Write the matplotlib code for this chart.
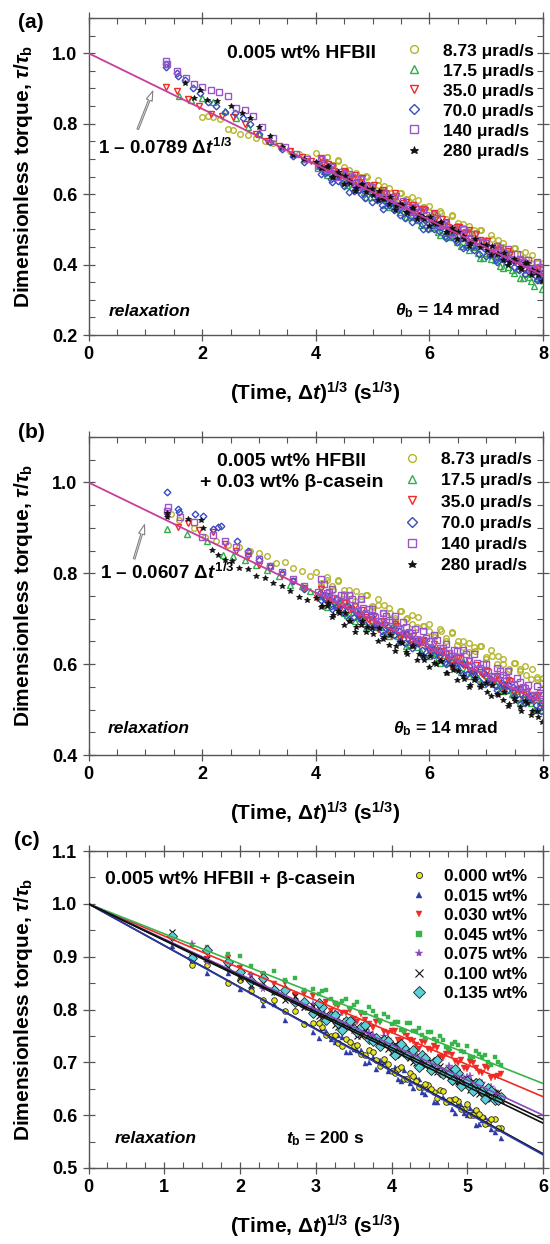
import numpy as np
import matplotlib
matplotlib.use("Agg")
import matplotlib.pyplot as plt
from matplotlib.ticker import MultipleLocator, FormatStrFormatter

plt.rcParams.update({
    "font.family": ["Liberation Sans", "DejaVu Sans"],
    "font.weight": "bold",
    "axes.labelweight": "bold",
    "mathtext.fontset": "custom",
    "mathtext.rm": "Liberation Sans:bold",
    "mathtext.it": "Liberation Sans:italic:bold",
    "mathtext.bf": "Liberation Sans:bold",
})

nan = np.nan

# ---------------- Panel (a): 0.005 wt% HFBII ----------------
A_LABELS = ["8.73 \u03bcrad/s", "17.5 \u03bcrad/s", "35.0 \u03bcrad/s",
            "70.0 \u03bcrad/s", "140 \u03bcrad/s", "280 \u03bcrad/s"]
A_FIT_X = [0.0, 8.0]
A_FIT_Y = [1.0, 0.3688]          # 1 - 0.0789 dt^(1/3)

A_X_873 = [2.00, 2.10, 2.20, 2.32, 2.45, 2.55, 2.67, 2.80, 2.95, 3.10, 3.25, 3.40, 3.55, 3.70, 3.85,
           4.0, 4.1, 4.2, 4.3, 4.4, 4.5, 4.6, 4.7, 4.8, 4.9, 5.0, 5.1, 5.2, 5.3, 5.4, 5.5, 5.6, 5.7,
           5.8, 5.9, 6.0, 6.1, 6.2, 6.3, 6.4, 6.5, 6.6, 6.7, 6.8, 6.9, 7.0, 7.1, 7.2, 7.3, 7.4, 7.5,
           7.6, 7.7, 7.8, 7.9, 8.0]
A_Y_873 = [.818, .822, .820, .812, .784, .782, .770, .768, .760, .752, .744, .733, .722, .714, .706,
           .718, .700, .704, .684, .697, .677, .654, .660, .642, .648, .621, .625, .623, .603, .590,
           .602, .587, .571, .584, .562, .567, .541, .545, .521, .537, .517, .503, .509, .491, .497,
           .468, .472, .469, .449, .435, .447, .431, .416, .428, .405, .404]

A_X_175 = [1.60, 1.80, 2.00, 2.20, 2.40, 2.60, 2.80, 3.00, 3.20, 3.40, 3.60, 3.80,
           4.05, 4.15, 4.25, 4.35, 4.45, 4.55, 4.65, 4.75, 4.85, 4.95, 5.05, 5.15, 5.25, 5.35,
           5.45, 5.55, 5.65, 5.75, 5.85, 5.95, 6.05, 6.15, 6.25, 6.35, 6.45, 6.55, 6.65, 6.75,
           6.85, 6.95, 7.05, 7.15, 7.25, 7.35, 7.45, 7.55, 7.65, 7.75, 7.85, 7.95]
A_Y_175 = [.879, .868, .872, .862, .835, .815, .790, .770, .752, .735, .715, .700,
           .680, .666, .671, .651, .657, .627, .630, .626, .606, .591, .603, .586, .570, .581,
           .557, .560, .534, .537, .512, .528, .508, .493, .498, .478, .484, .454, .457, .453,
           .434, .419, .430, .413, .397, .408, .384, .387, .361, .365, .340, .355]

A_X_350 = [1.36, 1.55, 1.75, 1.95, 2.15, 2.35, 2.55, 2.75, 2.95, 3.15, 3.35, 3.55, 3.75, 3.92,
           4.02, 4.12, 4.22, 4.32, 4.42, 4.52, 4.62, 4.72, 4.82, 4.92, 5.02, 5.12, 5.22, 5.32,
           5.42, 5.52, 5.62, 5.72, 5.82, 5.92, 6.02, 6.12, 6.22, 6.32, 6.42, 6.52, 6.62, 6.72,
           6.82, 6.92, 7.02, 7.12, 7.22, 7.32, 7.42, 7.52, 7.62, 7.72, 7.82, 7.92]
A_Y_350 = [.905, .892, .870, .850, .828, .822, .818, .800, .772, .750, .738, .722, .706, .695,
           .685, .689, .686, .666, .652, .664, .648, .633, .645, .622, .626, .600, .604, .580,
           .596, .576, .563, .569, .550, .556, .527, .531, .528, .508, .494, .507, .491, .475,
           .487, .464, .468, .440, .442, .416, .431, .409, .393, .399, .380, .386]

A_X_700 = [1.36, 1.36, 1.55, 1.57, 1.70, 1.84, 1.97, 2.10, 2.25, 2.40, 2.58, 2.72, 2.84, 3.00,
           3.20, 3.40, 3.60, 3.80,
           4.07, 4.17, 4.27, 4.37, 4.47, 4.57, 4.67, 4.77, 4.87, 4.97, 5.07, 5.17, 5.27, 5.37,
           5.47, 5.57, 5.67, 5.77, 5.87, 5.97, 6.07, 6.17, 6.27, 6.37, 6.47, 6.57, 6.67, 6.77,
           6.87, 6.97, 7.07, 7.17, 7.27, 7.37, 7.47, 7.57, 7.67, 7.77, 7.87, 7.97]
A_Y_700 = [.969, .960, .943, .935, .924, .900, .888, .862, .850, .834, .830, .815, .800, .770,
           .748, .728, .708, .690,
           .676, .660, .643, .655, .631, .635, .609, .613, .588, .604, .583, .569, .574, .555,
           .561, .533, .537, .534, .514, .500, .512, .496, .480, .492, .471, .475, .450, .454,
           .431, .447, .428, .415, .422, .405, .412, .384, .389, .387, .368, .355]

A_X_140 = [1.36, 1.38, 1.56, 1.72, 1.86, 2.00, 2.15, 2.30, 2.45, 2.60, 2.75, 2.90, 3.05, 3.25,
           3.45, 3.65, 3.85,
           4.04, 4.14, 4.24, 4.34, 4.44, 4.54, 4.64, 4.74, 4.84, 4.94, 5.04, 5.14, 5.24, 5.34,
           5.44, 5.54, 5.64, 5.74, 5.84, 5.94, 6.04, 6.14, 6.24, 6.34, 6.44, 6.54, 6.64, 6.74,
           6.84, 6.94, 7.04, 7.14, 7.24, 7.34, 7.44, 7.54, 7.64, 7.74, 7.84, 7.94]
A_Y_140 = [.978, .970, .950, .930, .913, .905, .895, .890, .878, .845, .840, .822, .790, .760,
           .735, .715, .700,
           .674, .690, .670, .657, .663, .644, .650, .621, .625, .622, .602, .588, .601, .585,
           .569, .581, .558, .562, .536, .540, .516, .533, .513, .499, .505, .486, .492, .463,
           .467, .464, .446, .433, .446, .431, .416, .429, .407, .412, .387, .393]

A_X_280 = [1.70, 1.85, 1.96, 2.08, 2.26, 2.50, 2.70, 2.85, 3.00, 3.20, 3.40, 3.60, 3.80,
           4.01, 4.11, 4.21, 4.31, 4.41, 4.51, 4.61, 4.71, 4.81, 4.91, 5.01, 5.11, 5.21, 5.31,
           5.41, 5.51, 5.61, 5.71, 5.81, 5.91, 6.01, 6.11, 6.21, 6.31, 6.41, 6.51, 6.61, 6.71,
           6.81, 6.91, 7.01, 7.11, 7.21, 7.31, 7.41, 7.51, 7.61, 7.71, 7.81, 7.91]
A_Y_280 = [.916, .873, .896, .868, .865, .850, .830, .815, .790, .765, .735, .712, .700,
           .692, .673, .679, .650, .654, .651, .631, .617, .629, .614, .598, .610, .587, .591,
           .565, .569, .545, .561, .542, .528, .534, .515, .521, .492, .496, .493, .473, .460,
           .472, .456, .440, .452, .429, .433, .407, .411, .388, .404, .384, .370]

# second sweep of readings in the dense long-time part (shared time values)
X2 = [4.09, 4.19, 4.29, 4.39, 4.49, 4.59, 4.69, 4.79, 4.89, 4.99, 5.09, 5.19, 5.29, 5.39,
      5.49, 5.59, 5.69, 5.79, 5.89, 5.99, 6.09, 6.19, 6.29, 6.39, 6.49, 6.59, 6.69, 6.79,
      6.89, 6.99, 7.09, 7.19, 7.29, 7.39, 7.49, 7.59, 7.69, 7.79, 7.89, 7.99]
A2_873 = [.688, .705, .683, .694, .662, .669, .642, .650, .651, .624, .640, .607, .616, .588,
          .603, .585, .592, .561, .564, .549, .536, .553, .530, .541, .509, .516, .489, .497,
          .498, .471, .485, .452, .460, .432, .447, .429, .436, .405, .408, .394]
A2_175 = [.683, .655, .663, .664, .636, .648, .614, .622, .593, .607, .588, .595, .564, .566,
          .550, .534, .550, .526, .536, .504, .511, .483, .490, .491, .463, .475, .441, .449,
          .420, .434, .416, .423, .391, .393, .377, .361, .377, .353, .363, .332]
A2_350 = [.703, .670, .679, .651, .666, .648, .655, .624, .627, .612, .596, .613, .591, .602,
          .570, .577, .550, .558, .559, .532, .546, .513, .521, .493, .508, .490, .497, .466,
          .469, .454, .437, .453, .429, .439, .406, .412, .384, .391, .391, .364]
A2_700 = [.657, .664, .634, .637, .622, .606, .623, .600, .611, .579, .586, .559, .568, .569,
          .542, .555, .522, .530, .502, .517, .500, .507, .476, .479, .464, .448, .465, .442,
          .455, .424, .433, .407, .416, .418, .392, .406, .374, .383, .356, .373]
A2_140 = [.700, .668, .676, .649, .657, .658, .631, .644, .611, .619, .591, .606, .589, .596,
          .565, .568, .553, .537, .554, .531, .543, .511, .518, .491, .499, .500, .473, .486,
          .453, .461, .436, .452, .435, .443, .413, .417, .403, .388, .406, .384]
A2_280 = [.675, .676, .650, .663, .630, .638, .610, .625, .607, .614, .583, .586, .572, .556,
          .573, .550, .561, .529, .536, .509, .518, .519, .492, .505, .472, .480, .452, .467,
          .449, .456, .426, .429, .414, .398, .415, .392, .403, .371, .378, .352]

# ---------------- Panel (b): HFBII + 0.03 wt% beta-casein ----------------
B_FIT_X = [0.0, 8.0]
B_FIT_Y = [1.0, 0.5144]          # 1 - 0.0607 dt^(1/3)

B_X_873 = [1.46, 1.60, 1.85, 2.05, 2.25, 2.45, 2.65, 2.85, 3.00, 3.15, 3.30, 3.45, 3.60, 3.75, 3.90,
           4.0, 4.1, 4.2, 4.3, 4.4, 4.5, 4.6, 4.7, 4.8, 4.9, 5.0, 5.1, 5.2, 5.3, 5.4, 5.5, 5.6, 5.7,
           5.8, 5.9, 6.0, 6.1, 6.2, 6.3, 6.4, 6.5, 6.6, 6.7, 6.8, 6.9, 7.0, 7.1, 7.2, 7.3, 7.4, 7.5,
           7.6, 7.7, 7.8, 7.9, 8.0]
B_Y_873 = [.930, .918, .900, .880, .872, .862, .858, .850, .845, .838, .822, .825, .812, .806, .795,
           .802, .778, .785, .763, .782, .764, .752, .761, .744, .753, .726, .731, .731, .713, .702,
           .716, .702, .689, .703, .683, .689, .665, .672, .650, .669, .650, .638, .647, .630, .639,
           .612, .618, .618, .600, .589, .603, .589, .576, .590, .568, .569]

B_X_175 = [1.38, 1.73, 2.08, 2.37, 2.55, 2.75, 2.95, 3.15, 3.35, 3.55, 3.75, 3.90,
           4.05, 4.15, 4.25, 4.35, 4.45, 4.55, 4.65, 4.75, 4.85, 4.95, 5.05, 5.15, 5.25, 5.35,
           5.45, 5.55, 5.65, 5.75, 5.85, 5.95, 6.05, 6.15, 6.25, 6.35, 6.45, 6.55, 6.65, 6.75,
           6.85, 6.95, 7.05, 7.15, 7.25, 7.35, 7.45, 7.55, 7.65, 7.75, 7.85, 7.95]
B_Y_175 = [.898, .887, .872, .840, .838, .830, .818, .808, .795, .775, .772, .760,
           .749, .737, .745, .728, .736, .709, .715, .714, .696, .684, .696, .682, .668, .682,
           .661, .666, .642, .648, .626, .643, .625, .613, .621, .603, .610, .583, .589, .587,
           .569, .557, .571, .556, .542, .556, .535, .540, .516, .522, .500, .516]

B_X_350 = [1.38, 1.58, 1.75, 1.95, 2.20, 2.40, 2.60, 2.80, 3.00, 3.20, 3.40, 3.60, 3.80,
           4.02, 4.12, 4.22, 4.32, 4.42, 4.52, 4.62, 4.72, 4.82, 4.92, 5.02, 5.12, 5.22, 5.32,
           5.42, 5.52, 5.62, 5.72, 5.82, 5.92, 6.02, 6.12, 6.22, 6.32, 6.42, 6.52, 6.62, 6.72,
           6.82, 6.92, 7.02, 7.12, 7.22, 7.32, 7.42, 7.52, 7.62, 7.72, 7.82, 7.92]
B_Y_350 = [.928, .902, .910, .895, .890, .865, .850, .838, .818, .812, .796, .783, .768,
           .746, .752, .751, .733, .721, .735, .721, .706, .720, .699, .705, .681, .687, .665,
           .683, .665, .653, .661, .644, .652, .625, .631, .629, .611, .599, .613, .599, .585,
           .599, .578, .584, .560, .566, .544, .562, .544, .531, .539, .522, .530]

B_X_700 = [1.38, 1.58, 1.60, 1.87, 2.02, 2.20, 2.28, 2.33, 2.61, 2.80, 3.00, 3.20, 3.40, 3.60, 3.80,
           4.07, 4.17, 4.27, 4.37, 4.47, 4.57, 4.67, 4.77, 4.87, 4.97, 5.07, 5.17, 5.27, 5.37,
           5.47, 5.57, 5.67, 5.77, 5.87, 5.97, 6.07, 6.17, 6.27, 6.37, 6.47, 6.57, 6.67, 6.77,
           6.87, 6.97, 7.07, 7.17, 7.27, 7.37, 7.47, 7.57, 7.67, 7.77, 7.87, 7.97]
B_Y_700 = [.978, .941, .936, .930, .927, .898, .902, .904, .870, .848, .830, .815, .800, .782, .765,
           .757, .743, .729, .743, .722, .728, .704, .709, .687, .705, .686, .674, .682, .665,
           .673, .646, .651, .650, .632, .620, .634, .618, .604, .618, .597, .603, .579, .585,
           .563, .581, .563, .551, .559, .542, .550, .523, .528, .527, .509, .497]

B_X_140 = [1.38, 1.40, 1.61, 1.85, 2.00, 2.20, 2.40, 2.60, 2.80, 3.00, 3.20, 3.40, 3.60, 3.80,
           4.04, 4.14, 4.24, 4.34, 4.44, 4.54, 4.64, 4.74, 4.84, 4.94, 5.04, 5.14, 5.24, 5.34,
           5.44, 5.54, 5.64, 5.74, 5.84, 5.94, 6.04, 6.14, 6.24, 6.34, 6.44, 6.54, 6.64, 6.74,
           6.84, 6.94, 7.04, 7.14, 7.24, 7.34, 7.44, 7.54, 7.64, 7.74, 7.84, 7.94]
B_Y_140 = [.938, .945, .924, .913, .880, .885, .872, .858, .845, .832, .815, .802, .788, .772,
           .758, .776, .758, .746, .753, .736, .744, .717, .723, .722, .704, .692, .706, .692,
           .678, .692, .671, .677, .653, .658, .636, .654, .636, .624, .632, .615, .623, .596,
           .602, .601, .583, .571, .585, .570, .556, .570, .549, .555, .531, .537]

B_X_280 = [1.38, 1.38, 1.75, 1.98, 2.02, 2.18, 2.28, 2.40, 2.52, 2.65, 2.80, 2.95, 3.10, 3.25,
           3.40, 3.55, 3.70, 3.85,
           4.01, 4.11, 4.21, 4.31, 4.41, 4.51, 4.61, 4.71, 4.81, 4.91, 5.01, 5.11, 5.21, 5.31,
           5.41, 5.51, 5.61, 5.71, 5.81, 5.91, 6.01, 6.11, 6.21, 6.31, 6.41, 6.51, 6.61, 6.71,
           6.81, 6.91, 7.01, 7.11, 7.21, 7.31, 7.41, 7.51, 7.61, 7.71, 7.81, 7.91]
B_Y_280 = [.924, .933, .920, .918, .900, .852, .840, .830, .828, .812, .810, .795, .790, .778,
           .772, .760, .748, .742,
           .745, .728, .735, .708, .713, .712, .694, .681, .695, .681, .666, .680, .659, .665,
           .640, .646, .623, .641, .622, .610, .618, .601, .608, .581, .587, .586, .567, .555,
           .569, .555, .539, .553, .532, .538, .513, .519, .497, .515, .496, .484]

B2_873 = [.773, .792, .772, .785, .755, .764, .739, .750, .753, .729, .744, .713, .724, .698,
          .716, .700, .709, .681, .685, .673, .659, .678, .658, .671, .642, .651, .626, .637,
          .640, .616, .631, .600, .611, .584, .602, .586, .595, .567, .572, .559]
B2_175 = [.750, .725, .735, .738, .712, .727, .696, .706, .680, .697, .681, .690, .661, .666,
          .653, .639, .658, .637, .649, .619, .628, .603, .613, .616, .591, .606, .575, .585,
          .559, .576, .560, .569, .540, .544, .531, .517, .536, .515, .528, .498]
B2_350 = [.766, .735, .745, .719, .735, .719, .728, .699, .704, .691, .677, .696, .675, .688,
          .658, .667, .642, .652, .654, .629, .644, .613, .623, .597, .614, .598, .607, .578,
          .583, .570, .556, .575, .554, .566, .536, .545, .520, .530, .533, .508]
B2_700 = [.742, .751, .722, .727, .713, .699, .718, .697, .710, .680, .689, .664, .674, .677,
          .652, .667, .636, .646, .619, .636, .620, .629, .600, .605, .592, .578, .597, .576,
          .589, .559, .568, .543, .553, .555, .530, .545, .514, .524, .498, .515]
B2_140 = [.787, .757, .766, .741, .750, .753, .728, .743, .712, .722, .696, .713, .697, .706,
          .677, .682, .669, .655, .673, .652, .665, .635, .644, .619, .629, .632, .607, .622,
          .591, .601, .575, .592, .576, .584, .555, .560, .547, .533, .552, .531]
B2_280 = [.725, .728, .703, .718, .686, .696, .670, .687, .671, .680, .651, .656, .643, .629,
          .648, .627, .640, .610, .618, .593, .603, .606, .581, .596, .565, .575, .549, .566,
          .550, .559, .530, .535, .522, .507, .526, .505, .518, .488, .497, .472]

# ---------------- Panel (c): HFBII + beta-casein, varying concentration ----------------
C_LABELS = ["0.000 wt%", "0.015 wt%", "0.030 wt%", "0.045 wt%", "0.075 wt%", "0.100 wt%", "0.135 wt%"]
C_X = [1.10, 1.36, 1.57, 1.84, 2.00, 2.15, 2.30, 2.45, 2.60, 2.72, 2.84, 2.96, 3.08, 3.20, 3.30,
       3.40, 3.50, 3.60, 3.70, 3.80, 3.90, 4.00, 4.08, 4.16, 4.24, 4.32, 4.40, 4.48, 4.56, 4.64,
       4.72, 4.80, 4.88, 4.96, 5.04, 5.12, 5.20, 5.28, 5.36, 5.44]
C_Y_000 = [nan, .885, .884, .851, .856, .835, .818, .818, .798, .798, .773, .774, .767, .749, .737,
           .744, .730, .716, .724, .704, .706, .684, .687, .668, .680, .665, .654, .658, .644, .648,
           .625, .629, .626, .611, .600, .609, .597, .585, .593, .575]
C_Y_015 = [.921, .894, .870, .869, .839, .842, .809, .811, .780, .799, .775, .758, .765, .744, .751,
           .719, .726, .723, .701, .687, .701, .685, .669, .686, .661, .670, .643, .650, .625, .647,
           .626, .612, .623, .604, .613, .582, .591, .590, .569, .557]
C_Y_030 = [nan, nan, .896, .897, .878, .864, .866, .849, .850, .827, .829, .825, .809, .797, .806,
           .794, .782, .791, .773, .777, .757, .760, .743, .756, .742, .732, .738, .726, .731, .710,
           .715, .713, .699, .690, .701, .690, .679, .689, .672, .677]
C_Y_045 = [nan, .922, .919, .905, .901, .883, .870, .872, .856, .859, .836, .839, .835, .820, .810,
           .819, .808, .796, .805, .788, .792, .772, .777, .760, .774, .760, .751, .757, .744, .750,
           .729, .735, .733, .720, .711, .722, .711, .701, .711, .695]
C_Y_075 = [nan, .924, .890, .883, .865, .865, .839, .839, .832, .815, .803, .810, .796, .782, .790,
           .771, .775, .754, .756, .738, .749, .733, .723, .729, .715, .720, .699, .703, .701, .687,
           .677, .687, .676, .664, .674, .656, .661, .642, .645, .628]
C_Y_100 = [.946, .900, .895, .880, .860, .846, .851, .834, .818, .825, .805, .807, .785, .785, .767,
           .778, .762, .750, .754, .740, .743, .720, .725, .722, .708, .698, .708, .696, .685, .694,
           .677, .682, .662, .666, .648, .661, .646, .636, .642, .628]
C_Y_135 = [.940, .898, .912, .889, .871, .854, .859, .836, .836, .814, .814, .794, .804, .787, .775,
           .779, .764, .767, .744, .747, .743, .727, .718, .727, .716, .704, .714, .696, .700, .681,
           .684, .667, .679, .665, .654, .660, .646, .651, .629, .634]
# second sweep (long times)
C_X2 = [3.04, 3.14, 3.25, 3.35, 3.45, 3.55, 3.65, 3.75, 3.85, 3.95, 4.04, 4.12, 4.20, 4.28,
        4.36, 4.44, 4.52, 4.60, 4.68, 4.76, 4.84, 4.92, 5.00, 5.08, 5.16, 5.24, 5.32, 5.40]
C2_000 = [.775, .752, .752, .731, .738, .733, .714, .719, .694, .696, .680, .691, .669, .674,
          .653, .659, .650, .633, .645, .628, .631, .612, .621, .601, .602, .584, .593, .576]
C2_015 = [.747, .760, .738, .748, .719, .723, .698, .710, .705, .683, .692, .664, .670, .652,
          .668, .641, .650, .624, .634, .624, .604, .620, .601, .607, .583, .597, .574, .576]
C2_030 = [.805, .814, .810, .793, .799, .776, .780, .765, .776, .755, .760, .741, .749, .741,
          .725, .738, .723, .727, .709, .720, .702, .704, .687, .698, .682, .691, .671, .675]
C2_045 = [.830, .836, .813, .817, .802, .814, .793, .798, .778, .785, .777, .761, .775, .760,
          .765, .747, .758, .740, .743, .726, .738, .722, .731, .711, .715, .713, .695, .701]
C2_075 = [.799, .784, .793, .772, .776, .754, .761, .751, .733, .745, .729, .732, .714, .724,
          .705, .707, .690, .700, .684, .693, .671, .675, .672, .653, .658, .647, .654, .632]
C2_100 = [.788, .792, .770, .776, .766, .749, .760, .743, .745, .725, .734, .716, .717, .700,
          .711, .694, .703, .681, .685, .681, .663, .667, .657, .664, .641, .646, .631, .643]
C2_135 = [.812, .780, .789, .761, .778, .757, .770, .741, .730, .740, .714, .735, .714, .723,
          .691, .709, .686, .704, .678, .677, .688, .656, .665, .645, .660, .631, .646, .629]
C_FIT_X = [0.0, 6.0]
C_FIT_END = [0.527, 0.525, 0.635, 0.660, 0.600, 0.592, 0.585]   # fitted torque at x = 6

# ---------------- colours ----------------
YEL = "#b4b52a"
GRN = "#2fae4a"
RED = "#ee2b24"
BLU = "#3a4cc0"
PUR = "#9a55c8"
BLK = "#111111"
MAG = "#c63d9d"

fig = plt.figure(figsize=(5.5, 12.44), dpi=100)
L = 88.5 / 550
W = 454.5 / 550
axA = fig.add_axes([L, 1 - 335 / 1244, W, 317 / 1244])
axB = fig.add_axes([L, 1 - 755 / 1244, W, 318 / 1244])
axC = fig.add_axes([L, 1 - 1168 / 1244, W, 317 / 1244])

XLABEL = r"(Time, $\Delta t$)$^{\mathbf{1/3}}$ (s$^{\mathbf{1/3}}$)"
YLABEL = r"Dimensionless torque, $\tau/\tau_{\mathrm{b}}$"


def style(ax, xmax, xmaj, xmin, ylo, yhi, ymaj, ymin):
    ax.set_xlim(0, xmax)
    ax.set_ylim(ylo, yhi)
    ax.xaxis.set_major_locator(MultipleLocator(xmaj))
    ax.xaxis.set_minor_locator(MultipleLocator(xmin))
    ax.yaxis.set_major_locator(MultipleLocator(ymaj))
    ax.yaxis.set_minor_locator(MultipleLocator(ymin))
    ax.xaxis.set_major_formatter(FormatStrFormatter("%d"))
    ax.yaxis.set_major_formatter(FormatStrFormatter("%.1f"))
    ax.tick_params(which="major", direction="inout", length=8, width=0.9, top=True, right=True,
                   labelsize=13, color="#555555", pad=4)
    ax.tick_params(which="minor", direction="in", length=4, width=0.8, top=True, right=True,
                   color="#555555")
    for s in ax.spines.values():
        s.set_color("#555555")
        s.set_linewidth(1.0)
    ax.set_xlabel(XLABEL, fontsize=15, labelpad=12)
    ax.set_ylabel(YLABEL, fontsize=15, labelpad=12)


def rate_panel(ax, data, fit_x, fit_y, leg_anchor, spacing):
    ms = 4.0
    specs = [("o", YEL, False), ("^", GRN, False), ("v", RED, False),
             ("D", BLU, False), ("s", PUR, False), ("*", BLK, True)]
    handles = []
    for (x, y), (m, c, filled) in zip(data, specs):
        if filled:
            h, = ax.plot(x, y, ls="none", marker=m, ms=ms + 0.4, mfc=c, mec=c, mew=0.6)
        else:
            h, = ax.plot(x, y, ls="none", marker=m, ms=ms if m != "D" else ms - 0.6,
                         mfc="none", mec=c, mew=1.0)
        handles.append(h)
    ax.plot(fit_x, fit_y, color=MAG, lw=1.3, zorder=5)
    ax.legend(handles, A_LABELS, loc="upper left", bbox_to_anchor=leg_anchor,
              frameon=False, borderpad=0, borderaxespad=0, handlelength=1.0,
              handletextpad=1.15, labelspacing=spacing, fontsize=12.5,
              markerscale=1.4, numpoints=1)


# ---- (a)
rate_panel(axA, [(A_X_873 + X2, A_Y_873 + A2_873), (A_X_175 + X2, A_Y_175 + A2_175),
                 (A_X_350 + X2, A_Y_350 + A2_350), (A_X_700 + X2, A_Y_700 + A2_700),
                 (A_X_140 + X2, A_Y_140 + A2_140), (A_X_280 + X2, A_Y_280 + A2_280)],
           A_FIT_X, A_FIT_Y, (0.697, 0.92), 0.28)
style(axA, 8, 2, 0.5, 0.2, 1.1, 0.2, 0.05)
axA.text(3.75, 1.0, "0.005 wt% HFBII", ha="center", va="center", fontsize=14)
axA.text(0.17, 0.732, r"1 – 0.0789 $\Delta t^{\mathbf{1/3}}$", ha="left", va="center", fontsize=13.5)
axA.annotate("", xy=(1.15, 0.90), xytext=(0.85, 0.777),
             arrowprops=dict(arrowstyle="simple,head_width=0.45,head_length=0.7,tail_width=0.12",
                             fc="white", ec="#808080", lw=0.8))
axA.text(0.36, 0.268, "relaxation", ha="left", va="center", fontsize=12.5, style="italic")
axA.text(5.39, 0.268, r"$\theta_{\mathrm{b}}$ = 14 mrad", ha="left", va="center", fontsize=12.5)

# ---- (b)
rate_panel(axB, [(B_X_873 + X2, B_Y_873 + B2_873), (B_X_175 + X2, B_Y_175 + B2_175),
                 (B_X_350 + X2, B_Y_350 + B2_350), (B_X_700 + X2, B_Y_700 + B2_700),
                 (B_X_140 + X2, B_Y_140 + B2_140), (B_X_280 + X2, B_Y_280 + B2_280)],
           B_FIT_X, B_FIT_Y, (0.693, 0.953), 0.35)
style(axB, 8, 2, 0.5, 0.4, 1.1, 0.2, 0.05)
axB.text(3.57, 1.046, "0.005 wt% HFBII", ha="center", va="center", fontsize=14)
axB.text(3.58, 1.0, "+ 0.03 wt% \u03b2-casein", ha="center", va="center", fontsize=14)
axB.text(0.20, 0.80, r"1 – 0.0607 $\Delta t^{\mathbf{1/3}}$", ha="left", va="center", fontsize=13.5)
axB.annotate("", xy=(1.0, 0.913), xytext=(0.79, 0.826),
             arrowprops=dict(arrowstyle="simple,head_width=0.45,head_length=0.7,tail_width=0.12",
                             fc="white", ec="#808080", lw=0.8))
axB.text(0.33, 0.459, "relaxation", ha="left", va="center", fontsize=12.5, style="italic")
axB.text(5.36, 0.459, r"$\theta_{\mathrm{b}}$ = 14 mrad", ha="left", va="center", fontsize=12.5)

# ---- (c)
c_line_cols = [BLK, "#2b3aa8", RED, "#38b54a", "#8a49c0", BLK, BLK]
for end, col in zip(C_FIT_END, c_line_cols):
    axC.plot(C_FIT_X, [1.0, end], color=col, lw=1.2, zorder=4)

cx = C_X + C_X2
h1, = axC.plot(cx, C_Y_015 + C2_015, ls="none", marker="^", ms=3.6, mfc="#2b3aa8", mec="#2b3aa8", mew=0.3, zorder=3)
h0, = axC.plot(cx, C_Y_000 + C2_000, ls="none", marker="o", ms=4.0, mfc="#e8e620", mec="#222222", mew=0.6, zorder=3)
h2, = axC.plot(cx, C_Y_030 + C2_030, ls="none", marker="v", ms=3.8, mfc=RED, mec=RED, mew=0.3, zorder=3)
h3, = axC.plot(cx, C_Y_045 + C2_045, ls="none", marker="s", ms=3.3, mfc="#38b54a", mec="#38b54a", mew=0.3, zorder=3)
h4, = axC.plot(cx, C_Y_075 + C2_075, ls="none", marker="*", ms=5.5, mfc="#8a49c0", mec="#8a49c0", mew=0.3, zorder=3)
h5, = axC.plot(cx, C_Y_100 + C2_100, ls="none", marker="x", ms=5.0, mec=BLK, mew=0.8, zorder=3)
h6, = axC.plot(cx, C_Y_135 + C2_135, ls="none", marker="D", ms=5.2, mfc="#5ad0d8", mec="#222222", mew=0.6, zorder=3)
axC.legend([h0, h1, h2, h3, h4, h5, h6], C_LABELS, loc="upper left", bbox_to_anchor=(0.707, 0.943),
           frameon=False, borderpad=0, borderaxespad=0, handlelength=1.0, handletextpad=0.95,
           labelspacing=0.25, fontsize=12.5, markerscale=1.1, numpoints=1)
style(axC, 6, 1, 0.25, 0.5, 1.1, 0.1, 0.05)
axC.text(0.22, 1.047, "0.005 wt% HFBII + \u03b2-casein", ha="left", va="center", fontsize=14)
axC.text(0.34, 0.555, "relaxation", ha="left", va="center", fontsize=12.5, style="italic")
axC.text(2.61, 0.555, r"$t_{\mathrm{b}}$ = 200 s", ha="left", va="center", fontsize=12.5)

# panel labels
fig.text(31 / 550, 1 - 23 / 1244, "(a)", ha="center", va="center", fontsize=15)
fig.text(31 / 550, 1 - 433 / 1244, "(b)", ha="center", va="center", fontsize=15)
fig.text(27 / 550, 1 - 840 / 1244, "(c)", ha="center", va="center", fontsize=15)

fig.savefig("out.png", dpi=100)
